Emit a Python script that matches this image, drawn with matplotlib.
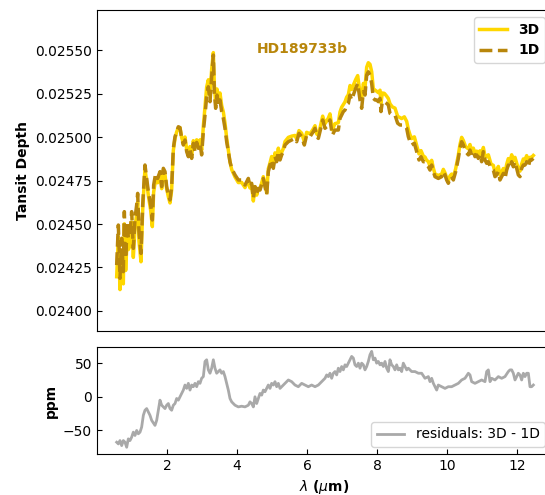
# Transit spectrum of HD189733b: 3D vs 1D model, with residuals

import matplotlib.pyplot as plt

# Wavelength grid of the spectra [micron]
wavelength = [
    0.562, 0.610, 0.657, 0.705, 0.752, 0.781, 0.819, 0.867, 0.895, 0.943,
    0.990, 1.038, 1.086, 1.133, 1.162, 1.200, 1.257, 1.305, 1.371, 1.419,
    1.467, 1.533, 1.581, 1.619, 1.676, 1.733, 1.800, 1.848, 1.895, 1.943,
    1.990, 2.038, 2.086, 2.133, 2.181, 2.229, 2.276, 2.324, 2.371, 2.419,
    2.467, 2.514, 2.562, 2.610, 2.657, 2.705, 2.752, 2.800, 2.848, 2.895,
    2.943, 2.990, 3.038, 3.086, 3.133, 3.181, 3.229, 3.276, 3.324, 3.352,
    3.390, 3.429, 3.467, 3.514, 3.562, 3.610, 3.657, 3.705, 3.752, 3.800,
    3.848, 3.943, 4.038, 4.133, 4.229, 4.324, 4.371, 4.419, 4.467, 4.514,
    4.562, 4.610, 4.657, 4.752, 4.800, 4.848, 4.895, 4.943, 4.990, 5.038,
    5.086, 5.133, 5.181, 5.229, 5.276, 5.324, 5.371, 5.467, 5.562, 5.657,
    5.705, 5.771, 5.848, 5.924, 5.990, 6.086, 6.181, 6.229, 6.276, 6.324,
    6.371, 6.448, 6.514, 6.562, 6.610, 6.657, 6.724, 6.800, 6.895, 6.943,
    6.990, 7.038, 7.086, 7.133, 7.181, 7.229, 7.276, 7.324, 7.390, 7.448,
    7.514, 7.562, 7.610, 7.657, 7.705, 7.752, 7.800, 7.848, 7.895, 7.943,
    7.990, 8.038, 8.086, 8.114, 8.152, 8.210, 8.276, 8.324, 8.371, 8.438,
    8.514, 8.590, 8.657, 8.705, 8.781, 8.848, 8.895, 8.943, 8.990, 9.067,
    9.133, 9.200, 9.257, 9.324, 9.371, 9.419, 9.467, 9.514, 9.562, 9.610,
    9.657, 9.752, 9.848, 9.895, 9.943, 9.990, 10.038, 10.086, 10.133, 10.181,
    10.248, 10.324, 10.371, 10.419, 10.467, 10.533, 10.610, 10.657, 10.705, 10.752,
    10.800, 10.848, 10.895, 10.943, 10.990, 11.038, 11.086, 11.133, 11.181, 11.257,
    11.324, 11.371, 11.419, 11.467, 11.514, 11.562, 11.610, 11.657, 11.705, 11.752,
    11.800, 11.848, 11.895, 11.943, 11.990, 12.038, 12.086, 12.133, 12.181, 12.229,
    12.276, 12.324, 12.371, 12.419, 12.467,
]

# 1D model transit depth
depth_1d = [
    0.024264, 0.024494, 0.024188, 0.024418, 0.024226, 0.024571, 0.024303, 0.024513, 0.024418, 0.024437,
    0.024571, 0.024360, 0.024533, 0.024609, 0.024676, 0.024456, 0.024331, 0.024609, 0.024839, 0.024762,
    0.024686, 0.024609, 0.024523, 0.024724, 0.024791, 0.024762, 0.024801, 0.024715, 0.024820, 0.024801,
    0.024715, 0.024667, 0.024638, 0.024715, 0.024935, 0.025002, 0.025031, 0.025059, 0.025054, 0.024992,
    0.024954, 0.024983, 0.024916, 0.024887, 0.024935, 0.024877, 0.024964, 0.024916, 0.024969, 0.024935,
    0.024964, 0.024897, 0.025031, 0.025126, 0.025232, 0.025289, 0.025203, 0.025347, 0.025471, 0.025261,
    0.025165, 0.025241, 0.025184, 0.025213, 0.025146, 0.025107, 0.025050, 0.024973, 0.024916, 0.024858,
    0.024820, 0.024782, 0.024753, 0.024753, 0.024724, 0.024762, 0.024715, 0.024734, 0.024647, 0.024715,
    0.024676, 0.024705, 0.024695, 0.024762, 0.024715, 0.024667, 0.024801, 0.024839, 0.024868, 0.024820,
    0.024887, 0.024858, 0.024916, 0.024868, 0.024897, 0.024916, 0.024954, 0.024973, 0.024983, 0.024992,
    0.024973, 0.025021, 0.025002, 0.024954, 0.025011, 0.025002, 0.025031, 0.025050, 0.025002, 0.024992,
    0.025031, 0.025098, 0.025050, 0.025059, 0.025079, 0.025098, 0.025011, 0.025040, 0.025040, 0.025107,
    0.025126, 0.025146, 0.025155, 0.025184, 0.025193, 0.025241, 0.025213, 0.025241, 0.025280, 0.025308,
    0.025213, 0.025165, 0.025261, 0.025241, 0.025356, 0.025375, 0.025356, 0.025308, 0.025222, 0.025213,
    0.025213, 0.025203, 0.025222, 0.025146, 0.025203, 0.025203, 0.025193, 0.025184, 0.025136, 0.025126,
    0.025126, 0.025079, 0.025069, 0.025069, 0.025069, 0.025050, 0.025002, 0.024973, 0.024954, 0.024964,
    0.024916, 0.024868, 0.024887, 0.024858, 0.024858, 0.024839, 0.024829, 0.024810, 0.024839, 0.024801,
    0.024772, 0.024762, 0.024772, 0.024801, 0.024782, 0.024753, 0.024734, 0.024762, 0.024772, 0.024753,
    0.024801, 0.024877, 0.024935, 0.024973, 0.024954, 0.024916, 0.024897, 0.024925, 0.024897, 0.024916,
    0.024887, 0.024897, 0.024877, 0.024897, 0.024858, 0.024916, 0.024868, 0.024849, 0.024858, 0.024820,
    0.024810, 0.024772, 0.024782, 0.024801, 0.024753, 0.024772, 0.024791, 0.024762, 0.024810, 0.024839,
    0.024820, 0.024858, 0.024829, 0.024858, 0.024820, 0.024782, 0.024772, 0.024820, 0.024839, 0.024839,
    0.024858, 0.024829, 0.024868, 0.024868, 0.024877,
]

# 3D model transit depth
depth_3d = [
    0.024197, 0.024427, 0.024123, 0.024348, 0.024156, 0.024501, 0.024233, 0.024441, 0.024353, 0.024375,
    0.024511, 0.024308, 0.024476, 0.024559, 0.024624, 0.024401, 0.024283, 0.024579, 0.024819, 0.024744,
    0.024664, 0.024579, 0.024485, 0.024684, 0.024756, 0.024737, 0.024796, 0.024703, 0.024805, 0.024783,
    0.024703, 0.024657, 0.024621, 0.024695, 0.024923, 0.024992, 0.025029, 0.025054, 0.025054, 0.024997,
    0.024964, 0.025000, 0.024928, 0.024907, 0.024945, 0.024894, 0.024979, 0.024936, 0.024984, 0.024957,
    0.024984, 0.024924, 0.025061, 0.025178, 0.025287, 0.025329, 0.025238, 0.025389, 0.025485, 0.025301,
    0.025195, 0.025276, 0.025221, 0.025253, 0.025181, 0.025144, 0.025080, 0.024993, 0.024926, 0.024856,
    0.024813, 0.024770, 0.024738, 0.024739, 0.024709, 0.024750, 0.024707, 0.024724, 0.024632, 0.024715,
    0.024666, 0.024703, 0.024700, 0.024772, 0.024723, 0.024679, 0.024818, 0.024851, 0.024888, 0.024837,
    0.024909, 0.024873, 0.024936, 0.024880, 0.024912, 0.024934, 0.024974, 0.024998, 0.025005, 0.025009,
    0.024989, 0.025037, 0.025022, 0.024972, 0.025027, 0.025018, 0.025047, 0.025065, 0.025018, 0.025009,
    0.025051, 0.025120, 0.025077, 0.025091, 0.025109, 0.025133, 0.025041, 0.025077, 0.025082, 0.025144,
    0.025171, 0.025186, 0.025202, 0.025229, 0.025243, 0.025296, 0.025273, 0.025298, 0.025330, 0.025353,
    0.025255, 0.025215, 0.025308, 0.025281, 0.025401, 0.025427, 0.025418, 0.025375, 0.025277, 0.025270,
    0.025263, 0.025255, 0.025269, 0.025194, 0.025253, 0.025251, 0.025235, 0.025221, 0.025191, 0.025173,
    0.025166, 0.025119, 0.025111, 0.025106, 0.025116, 0.025090, 0.025044, 0.025013, 0.024991, 0.025001,
    0.024953, 0.024903, 0.024922, 0.024890, 0.024885, 0.024866, 0.024859, 0.024832, 0.024866, 0.024821,
    0.024787, 0.024779, 0.024787, 0.024814, 0.024794, 0.024766, 0.024749, 0.024777, 0.024787, 0.024769,
    0.024818, 0.024897, 0.024957, 0.024998, 0.024980, 0.024944, 0.024932, 0.024957, 0.024919, 0.024936,
    0.024907, 0.024919, 0.024899, 0.024921, 0.024883, 0.024940, 0.024890, 0.024886, 0.024898, 0.024845,
    0.024837, 0.024797, 0.024809, 0.024831, 0.024781, 0.024799, 0.024819, 0.024792, 0.024843, 0.024876,
    0.024860, 0.024898, 0.024864, 0.024883, 0.024850, 0.024817, 0.024804, 0.024845, 0.024874, 0.024869,
    0.024893, 0.024864, 0.024883, 0.024883, 0.024894,
]

# Residuals 3D - 1D [ppm]
wavelength_res = [
    0.562, 0.610, 0.657, 0.705, 0.752, 0.800, 0.848, 0.895, 0.943, 0.990,
    1.038, 1.086, 1.133, 1.181, 1.229, 1.276, 1.324, 1.371, 1.419, 1.467,
    1.514, 1.562, 1.657, 1.705, 1.752, 1.800, 1.848, 1.895, 1.943, 1.990,
    2.038, 2.086, 2.133, 2.181, 2.229, 2.276, 2.324, 2.371, 2.419, 2.467,
    2.514, 2.562, 2.610, 2.657, 2.705, 2.752, 2.800, 2.848, 2.895, 2.943,
    2.990, 3.038, 3.086, 3.133, 3.181, 3.229, 3.276, 3.324, 3.371, 3.419,
    3.467, 3.514, 3.562, 3.610, 3.657, 3.705, 3.752, 3.800, 3.848, 3.943,
    4.038, 4.133, 4.229, 4.324, 4.371, 4.419, 4.467, 4.514, 4.562, 4.610,
    4.657, 4.705, 4.752, 4.800, 4.848, 4.895, 4.943, 4.990, 5.038, 5.086,
    5.133, 5.181, 5.229, 5.276, 5.371, 5.467, 5.562, 5.657, 5.752, 5.848,
    5.943, 6.038, 6.133, 6.229, 6.324, 6.419, 6.514, 6.562, 6.610, 6.657,
    6.705, 6.752, 6.800, 6.848, 6.895, 6.943, 6.990, 7.038, 7.086, 7.133,
    7.181, 7.229, 7.276, 7.324, 7.371, 7.419, 7.467, 7.514, 7.562, 7.610,
    7.657, 7.705, 7.752, 7.800, 7.848, 7.895, 7.943, 7.990, 8.038, 8.086,
    8.133, 8.181, 8.229, 8.276, 8.324, 8.371, 8.419, 8.467, 8.514, 8.562,
    8.610, 8.657, 8.705, 8.752, 8.800, 8.848, 8.895, 8.990, 9.086, 9.181,
    9.276, 9.371, 9.467, 9.514, 9.562, 9.610, 9.657, 9.705, 9.752, 9.848,
    9.943, 10.038, 10.133, 10.229, 10.324, 10.419, 10.514, 10.610, 10.657, 10.705,
    10.800, 10.895, 10.990, 11.086, 11.133, 11.181, 11.229, 11.276, 11.371, 11.467,
    11.562, 11.657, 11.752, 11.800, 11.848, 11.895, 11.943, 11.990, 12.038, 12.086,
    12.133, 12.181, 12.229, 12.276, 12.324, 12.371, 12.419, 12.467,
]
residual_ppm = [
    -67.5, -70, -65, -72.5, -65, -67.5, -75, -62.5, -65, -60,
    -52.5, -57.5, -50, -55, -52.5, -45, -27.5, -20, -17.5, -22.5,
    -27.5, -35, -42.5, -35, -20, -5, -12.5, -15, -17.5, -12.5,
    -10, -17.5, -20, -12.5, -10, -2.5, -5, 0, 5, 10,
    17.5, 12.5, 20, 10, 17.5, 15, 20, 15, 22.5, 20,
    27.5, 30, 52.5, 55, 40, 35, 42.5, 55, 42.5, 35,
    37.5, 40, 35, 37.5, 30, 20, 10, -2.5, -7.5, -12.5,
    -15, -14, -15, -12.5, -7.5, -10, -15, 0, -10, -2.5,
    5, 2.5, 10, 7.5, 12.5, 17.5, 12.5, 20, 17.5, 22.5,
    15, 20, 12.5, 15, 20, 25, 22.5, 17.5, 15, 20,
    17.5, 15, 17.5, 15, 17.5, 22.5, 27.5, 32.5, 30, 35,
    27.5, 35, 37.5, 32.5, 42.5, 37.5, 45, 40, 47.5, 45,
    50, 55, 60, 57.5, 47.5, 45, 50, 42.5, 50, 47.5,
    40, 45, 52.5, 62.5, 67.5, 55, 57.5, 50, 52.5, 47.5,
    50, 45, 52.5, 42.5, 37.5, 55, 47.5, 45, 40, 47.5,
    40, 42.5, 37.5, 50, 45, 40, 42.5, 37.5, 37.5, 35,
    35, 27.5, 30, 22.5, 27.5, 20, 15, 10, 17.5, 15,
    12.5, 15, 15, 17.5, 20, 25, 27.5, 35, 32.5, 22.5,
    20, 22.5, 25, 22.5, 37.5, 40, 22.5, 27.5, 25, 30,
    27.5, 30, 37.5, 40, 40, 35, 25, 30, 35, 32.5,
    25, 35, 30, 35, 35, 15, 15, 17.5,
]

fig = plt.figure(figsize=(5.45, 4.95), dpi=100)
ax_top = fig.add_axes([97 / 545, 164 / 495, 455 / 545, 321 / 495])
ax_bot = fig.add_axes([97 / 545, 41 / 495, 455 / 545, 107 / 495])

# Spectra
ax = ax_top
ax.plot(wavelength, depth_3d, color="gold", lw=2.5, label="3D")
ax.plot(wavelength, depth_1d, color="darkgoldenrod", lw=2.5, ls="--", label="1D")
ax.text(5.86, 0.025505, "HD189733b", color="darkgoldenrod", fontsize=10,
        fontweight="bold", ha="center", va="center")
ax.set_xlim(0, 13.0)
ax.set_ylim(0.023885, 0.02573)
ax.set_xticks([])
ax.set_yticks([0.024, 0.02425, 0.0245, 0.02475, 0.025, 0.02525, 0.0255])
ax.set_yticklabels(["0.02400", "0.02425", "0.02450", "0.02475", "0.02500", "0.02525", "0.02550"])
ax.tick_params(direction="in", labelsize=10)
ax.set_ylabel("Tansit Depth", fontsize=10, fontweight="bold")
ax.legend(loc="upper right", prop={"weight": "bold", "size": 10})

# Residuals
ax = ax_bot
ax.plot(wavelength_res, residual_ppm, color="darkgray", lw=2, label="residuals: 3D - 1D")
ax.set_xlim(0, 13.0)
ax.set_ylim(-85, 74)
ax.set_xticks([2, 4, 6, 8, 10, 12])
ax.set_yticks([-50, 0, 50])
ax.tick_params(direction="in", labelsize=10)
ax.set_ylabel("ppm", fontsize=10, fontweight="bold")
ax.set_xlabel(r"$\lambda$ ($\mu$m)", fontsize=10, fontweight="bold")
ax.legend(loc="lower right", fontsize=10)

fig.savefig("out.png", dpi=100)
